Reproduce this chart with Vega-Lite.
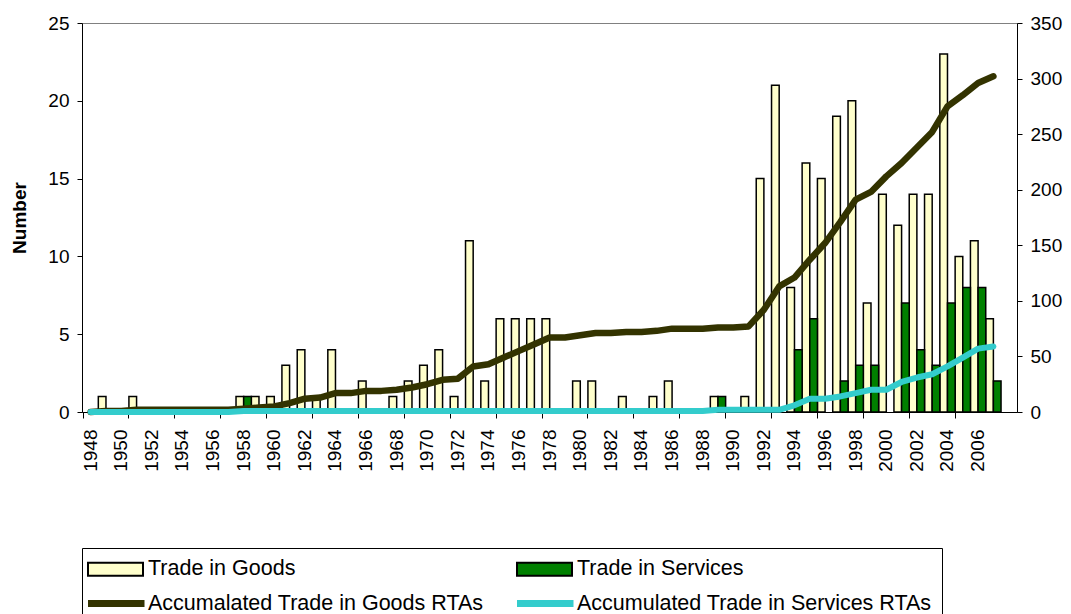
{
 "$schema": "https://vega.github.io/schema/vega-lite/v6.json",
 "width": 935,
 "height": 389,
 "autosize": "none",
 "padding": {"left": 82, "top": 23, "right": 54, "bottom": 202},
 "background": "white",
 "config": {
  "font": "Liberation Sans",
  "view": {"stroke": "#808080", "strokeWidth": 1},
  "legend": {"symbolOpacity": 1},
  "axis": {"labelColor": "black", "domainColor": "black", "tickColor": "black", "labelFontSize": 19, "grid": false, "labelFont": "Liberation Sans", "titleFont": "Liberation Sans", "titleColor": "black"}
 },
 "datasets": {
  "bars": [
   {"year":1949,"series":"Trade in Goods","value":1},
   {"year":1951,"series":"Trade in Goods","value":1},
   {"year":1958,"series":"Trade in Goods","value":1},
   {"year":1959,"series":"Trade in Goods","value":1},
   {"year":1960,"series":"Trade in Goods","value":1},
   {"year":1961,"series":"Trade in Goods","value":3},
   {"year":1962,"series":"Trade in Goods","value":4},
   {"year":1963,"series":"Trade in Goods","value":1},
   {"year":1964,"series":"Trade in Goods","value":4},
   {"year":1966,"series":"Trade in Goods","value":2},
   {"year":1968,"series":"Trade in Goods","value":1},
   {"year":1969,"series":"Trade in Goods","value":2},
   {"year":1970,"series":"Trade in Goods","value":3},
   {"year":1971,"series":"Trade in Goods","value":4},
   {"year":1972,"series":"Trade in Goods","value":1},
   {"year":1973,"series":"Trade in Goods","value":11},
   {"year":1974,"series":"Trade in Goods","value":2},
   {"year":1975,"series":"Trade in Goods","value":6},
   {"year":1976,"series":"Trade in Goods","value":6},
   {"year":1977,"series":"Trade in Goods","value":6},
   {"year":1978,"series":"Trade in Goods","value":6},
   {"year":1980,"series":"Trade in Goods","value":2},
   {"year":1981,"series":"Trade in Goods","value":2},
   {"year":1983,"series":"Trade in Goods","value":1},
   {"year":1985,"series":"Trade in Goods","value":1},
   {"year":1986,"series":"Trade in Goods","value":2},
   {"year":1989,"series":"Trade in Goods","value":1},
   {"year":1991,"series":"Trade in Goods","value":1},
   {"year":1992,"series":"Trade in Goods","value":15},
   {"year":1993,"series":"Trade in Goods","value":21},
   {"year":1994,"series":"Trade in Goods","value":8},
   {"year":1995,"series":"Trade in Goods","value":16},
   {"year":1996,"series":"Trade in Goods","value":15},
   {"year":1997,"series":"Trade in Goods","value":19},
   {"year":1998,"series":"Trade in Goods","value":20},
   {"year":1999,"series":"Trade in Goods","value":7},
   {"year":2000,"series":"Trade in Goods","value":14},
   {"year":2001,"series":"Trade in Goods","value":12},
   {"year":2002,"series":"Trade in Goods","value":14},
   {"year":2003,"series":"Trade in Goods","value":14},
   {"year":2004,"series":"Trade in Goods","value":23},
   {"year":2005,"series":"Trade in Goods","value":10},
   {"year":2006,"series":"Trade in Goods","value":11},
   {"year":2007,"series":"Trade in Goods","value":6},
   {"year":1958,"series":"Trade in Services","value":1},
   {"year":1989,"series":"Trade in Services","value":1},
   {"year":1994,"series":"Trade in Services","value":4},
   {"year":1995,"series":"Trade in Services","value":6},
   {"year":1997,"series":"Trade in Services","value":2},
   {"year":1998,"series":"Trade in Services","value":3},
   {"year":1999,"series":"Trade in Services","value":3},
   {"year":2001,"series":"Trade in Services","value":7},
   {"year":2002,"series":"Trade in Services","value":4},
   {"year":2003,"series":"Trade in Services","value":3},
   {"year":2004,"series":"Trade in Services","value":7},
   {"year":2005,"series":"Trade in Services","value":8},
   {"year":2006,"series":"Trade in Services","value":8},
   {"year":2007,"series":"Trade in Services","value":2}
  ],
  "lines": [
   {"year":1948,"goods":0,"services":0},{"year":1949,"goods":1,"services":0},{"year":1950,"goods":1,"services":0},
   {"year":1951,"goods":2,"services":0},{"year":1952,"goods":2,"services":0},{"year":1953,"goods":2,"services":0},
   {"year":1954,"goods":2,"services":0},{"year":1955,"goods":2,"services":0},{"year":1956,"goods":2,"services":0},
   {"year":1957,"goods":2,"services":0},{"year":1958,"goods":3,"services":1},{"year":1959,"goods":4,"services":1},
   {"year":1960,"goods":5,"services":1},{"year":1961,"goods":8,"services":1},{"year":1962,"goods":12,"services":1},
   {"year":1963,"goods":13,"services":1},{"year":1964,"goods":17,"services":1},{"year":1965,"goods":17,"services":1},
   {"year":1966,"goods":19,"services":1},{"year":1967,"goods":19,"services":1},{"year":1968,"goods":20,"services":1},
   {"year":1969,"goods":22,"services":1},{"year":1970,"goods":25,"services":1},{"year":1971,"goods":29,"services":1},
   {"year":1972,"goods":30,"services":1},{"year":1973,"goods":41,"services":1},{"year":1974,"goods":43,"services":1},
   {"year":1975,"goods":49,"services":1},{"year":1976,"goods":55,"services":1},{"year":1977,"goods":61,"services":1},
   {"year":1978,"goods":67,"services":1},{"year":1979,"goods":67,"services":1},{"year":1980,"goods":69,"services":1},
   {"year":1981,"goods":71,"services":1},{"year":1982,"goods":71,"services":1},{"year":1983,"goods":72,"services":1},
   {"year":1984,"goods":72,"services":1},{"year":1985,"goods":73,"services":1},{"year":1986,"goods":75,"services":1},
   {"year":1987,"goods":75,"services":1},{"year":1988,"goods":75,"services":1},{"year":1989,"goods":76,"services":2},
   {"year":1990,"goods":76,"services":2},{"year":1991,"goods":77,"services":2},{"year":1992,"goods":92,"services":2},
   {"year":1993,"goods":113,"services":2},{"year":1994,"goods":121,"services":6},{"year":1995,"goods":137,"services":12},
   {"year":1996,"goods":152,"services":12},{"year":1997,"goods":171,"services":14},{"year":1998,"goods":191,"services":17},
   {"year":1999,"goods":198,"services":20},{"year":2000,"goods":212,"services":20},{"year":2001,"goods":224,"services":27},
   {"year":2002,"goods":238,"services":31},{"year":2003,"goods":252,"services":34},{"year":2004,"goods":275,"services":41},
   {"year":2005,"goods":285,"services":49},{"year":2006,"goods":296,"services":57},{"year":2007,"goods":302,"services":59}
  ],
  "legendrows": [
   {"series": "Trade in Goods"},
   {"series": "Trade in Services"},
   {"series": "Accumalated Trade in Goods RTAs"},
   {"series": "Accumulated Trade in Services RTAs"}
  ]
 },
 "layer": [
  {
   "data": {"name": "bars"},
   "mark": {"type": "bar", "stroke": "black", "strokeWidth": 1.5},
   "encoding": {
    "x": {
     "field": "year", "type": "ordinal",
     "scale": {"paddingInner": 0, "paddingOuter": 0.555, "align": 0.06},
     "axis": {"orient": "bottom", "title": null, "labelAngle": 270, "labelAlign": "right", "labelBaseline": "middle", "ticks": false, "labelPadding": 17, "domain": true, "domainWidth": 1,
      "values": [1948,1950,1952,1954,1956,1958,1960,1962,1964,1966,1968,1970,1972,1974,1976,1978,1980,1982,1984,1986,1988,1990,1992,1994,1996,1998,2000,2002,2004,2006]}
    },
    "xOffset": {"field": "series", "type": "nominal", "scale": {"domain": ["Trade in Goods", "Trade in Services"], "paddingInner": 0, "paddingOuter": 0}},
    "y": {
     "field": "value", "type": "quantitative",
     "scale": {"domain": [0, 25]},
     "axis": {"orient": "left", "title": "Number", "values": [0,5,10,15,20,25], "tickSize": 5, "labelPadding": 8, "titleFontSize": 19, "titleFontWeight": "bold", "titlePadding": 18}
    },
    "color": {
     "field": "series", "type": "nominal",
     "scale": {"domain": ["Trade in Goods", "Trade in Services"], "range": ["#FFFFCC", "#008000"]},
     "legend": null
    }
   }
  },
  {
   "data": {"name": "legendrows"},
   "mark": {"type": "point", "opacity": 0, "filled": true},
   "encoding": {
    "fill": {
     "field": "series", "type": "nominal",
     "scale": {"domain": ["Trade in Goods", "Trade in Services", "Accumalated Trade in Goods RTAs", "Accumulated Trade in Services RTAs"], "range": ["#FFFFCC", "#008000", "transparent", "transparent"]},
     "legend": {
      "orient": "none", "legendX": 0, "legendY": 525,
      "direction": "horizontal", "columns": 2, "title": null,
      "labelFontSize": 21.5, "labelFont": "Liberation Sans", "labelColor": "black", "labelLimit": 600,
      "symbolSize": 400, "symbolOpacity": 1, "labelOffset": 29,
      "columnPadding": 19, "rowPadding": 9, "padding": 10,
      "strokeColor": "#000000", "fillColor": "white"
     }
    },
    "stroke": {
     "field": "series", "type": "nominal",
     "scale": {"domain": ["Trade in Goods", "Trade in Services", "Accumalated Trade in Goods RTAs", "Accumulated Trade in Services RTAs"], "range": ["#000000", "#000000", "#333300", "#33CCCC"]}
    },
    "shape": {
     "field": "series", "type": "nominal",
     "scale": {"domain": ["Trade in Goods", "Trade in Services", "Accumalated Trade in Goods RTAs", "Accumulated Trade in Services RTAs"], "range": ["M-1.75,-0.65H3.75V0.65H-1.75Z", "M-1.75,-0.65H3.75V0.65H-1.75Z", "M-1.75,0H3.9", "M-1.75,0H3.9"]}
    },
    "strokeWidth": {
     "field": "series", "type": "nominal",
     "scale": {"type": "ordinal", "domain": ["Trade in Goods", "Trade in Services", "Accumalated Trade in Goods RTAs", "Accumulated Trade in Services RTAs"], "range": [2, 2, 7, 7]}
    }
   }
  },
  {
   "data": {"name": "lines"},
   "encoding": {
    "x": {
     "field": "year", "type": "ordinal",
     "axis": {"orient": "bottom", "title": null, "labels": false, "domain": false, "ticks": true, "tickSize": 6, "bandPosition": 0,
      "values": [1948,1951,1954,1957,1960,1963,1966,1969,1972,1975,1978,1981,1984,1987,1990,1993,1996,1999,2002,2005]}
    }
   },
   "layer": [
    {
     "mark": {"type": "line", "stroke": "#333300", "strokeWidth": 6.5, "strokeCap": "round", "strokeJoin": "round"},
     "encoding": {
      "y": {"field": "goods", "type": "quantitative", "scale": {"domain": [0, 350]},
       "axis": {"orient": "right", "title": null, "values": [0,50,100,150,200,250,300,350], "tickSize": 5, "labelPadding": 8}}
     }
    },
    {
     "mark": {"type": "line", "stroke": "#33CCCC", "strokeWidth": 6, "strokeCap": "round", "strokeJoin": "round"},
     "encoding": {
      "y": {"field": "services", "type": "quantitative", "scale": {"domain": [0, 350]},
       "axis": {"orient": "right", "title": null, "values": [0,50,100,150,200,250,300,350], "tickSize": 5, "labelPadding": 8}}
     }
    }
   ]
  }
 ],
 "resolve": {"scale": {"y": "independent"}, "axis": {"x": "independent"}}
}
